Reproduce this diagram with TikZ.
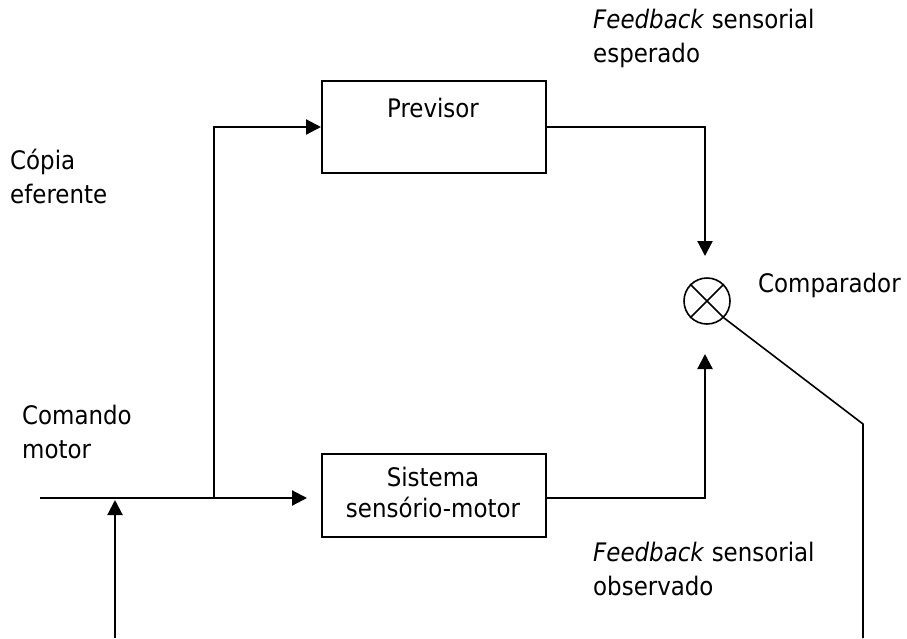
\documentclass[tikz,border=0pt]{standalone}
\usepackage{fontspec}
\setmainfont{DejaVu Sans Condensed}
\usetikzlibrary{arrows.meta}
\begin{document}
\begin{tikzpicture}[x=1pt,y=-1pt,
  every node/.style={font=\fontsize{25.5}{34}\selectfont,inner sep=0pt},
  label text/.style={anchor=base west,align=left},
  blockbox/.style={draw,line width=2pt},
  conn/.style={line width=2.2pt},
  arr/.style={conn,-{Triangle[length=15pt,width=15pt]}},
  thin conn/.style={line width=1.6pt}]
\useasboundingbox (0,0) rectangle (907,638);

% blocks
\node[blockbox,minimum width=224pt,minimum height=92pt,anchor=north west] (prev) at (321,80) {};
\node[anchor=base] (prevtxt) at (433,117) {Previsor};
\node[blockbox,minimum width=224pt,minimum height=83pt,anchor=north west] (sys) at (321,453) {};
\node[anchor=base,align=center] (systxt) at (433,517) {Sistema\\[-3pt]sensório-motor};

% comparator
\node[draw,circle,line width=1.6pt,minimum size=46pt] (comp) at (707,301) {};
\draw[thin conn] (comp.north west) -- (comp.south east);
\draw[thin conn] (comp.north east) -- (comp.south west);

% connector end points
\coordinate (start) at (40,498);
\coordinate (split) at (214,498);
\coordinate (up) at (214,127);
\coordinate (pout) at (705,127);
\coordinate (ptip) at (705,256);
\coordinate (sout) at (705,498);
\coordinate (stip) at (705,354);
\coordinate (ftip) at (115,500);
\coordinate (fbot) at (115,638);
\coordinate (bend) at (863,424);
\coordinate (rbot) at (863,638);

% connectors
\draw[arr] (start) -- (307,498);
\draw[arr] (split) -- (up) -- (prev.west |- up);
\draw[arr] (prev.east |- pout) -- (pout) -- (ptip);
\draw[arr] (sys.east |- sout) -- (sout) -- (stip);
\draw[arr] (fbot) -- (ftip);
\draw[thin conn] (comp.south east) -- (bend) -- (rbot);

% labels (anchored on the baseline of their last line)
\node[label text] (lfe) at (593,62) {\textit{Feedback} sensorial\\esperado};
\node[label text] (lce) at (10,203) {Cópia\\eferente};
\node[label text] (lcomp) at (758,292) {Comparador};
\node[label text] (lcm) at (22,458) {Comando\\motor};
\node[label text] (lfo) at (593,595) {\textit{Feedback} sensorial\\observado};
\end{tikzpicture}
\end{document}
